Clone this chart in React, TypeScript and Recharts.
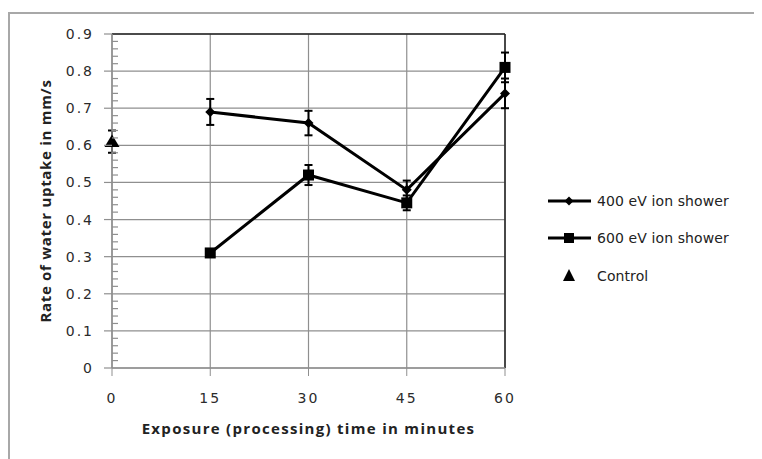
import {
  CartesianGrid,
  ComposedChart,
  ErrorBar,
  Label,
  Legend,
  Line,
  ReferenceLine,
  XAxis,
  YAxis,
} from "recharts";

const minutes = [0, 15, 30, 45, 60];
const shower400 = [null, 0.69, 0.66, 0.48, 0.74];
const shower400Err = [null, 0.035, 0.033, 0.025, 0.04];
const shower600 = [null, 0.31, 0.52, 0.445, 0.81];
const shower600Err = [null, 0.01, 0.027, 0.02, 0.04];
const control = [0.61, null, null, null, null];
const controlErr = [0.03, null, null, null, null];

const seriesNames = ["400 eV ion shower", "600 eV ion shower", "Control"];
const xTicks = [0, 15, 30, 45, 60];
const yTicks = [0, 0.1, 0.2, 0.3, 0.4, 0.5, 0.6, 0.7, 0.8, 0.9];
// every 0.02 along the value axis; the multiples of 0.1 get a label
const yAllTicks = Array.from({ length: 46 }, (_, i) => (i * 2) / 100);

const rows = minutes.map((m, i) => ({
  minutes: m,
  s400: shower400[i],
  e400: shower400Err[i],
  s600: shower600[i],
  e600: shower600Err[i],
  ctrl: control[i],
  eCtrl: controlErr[i],
}));

const GRID = "#8f8f8f";
const INK = "#000";
const TICK_FONT = { fontFamily: "DejaVu Sans", fontSize: 14, fill: "#2b2b2b", letterSpacing: 2 };
const TITLE_STYLE = {
  fontFamily: "Open Sans",
  fontSize: 15,
  fontWeight: 700,
  fill: "#222",
  letterSpacing: 1.3,
};
const Y_TICK_SIZE = 8;
const Y_TICK_MARGIN = 10;

const ok = (v: any) => typeof v === "number" && !isNaN(v);

// major ticks point outwards with a label, minor ones point into the plot
function YTick(props: any) {
  const { x, y, payload } = props;
  const v = payload.value;
  const axisX = x + Y_TICK_SIZE + Y_TICK_MARGIN;
  const major = yTicks.some((t) => Math.abs(t - v) < 1e-6);
  if (!major) {
    return <line x1={axisX} y1={y} x2={axisX + 6} y2={y} stroke={GRID} strokeWidth={1.2} />;
  }
  return (
    <g>
      <line x1={axisX - Y_TICK_SIZE} y1={y} x2={axisX} y2={y} stroke={GRID} strokeWidth={1.2} />
      <text x={x} y={y} dy="0.355em" textAnchor="end" style={TICK_FONT}>
        {String(Math.round(v * 10) / 10)}
      </text>
    </g>
  );
}

function Diamond(props: any) {
  const { cx, cy } = props;
  if (!ok(cx) || !ok(cy)) return null;
  const r = 5;
  return <path d={`M${cx},${cy - r}L${cx + r},${cy}L${cx},${cy + r}L${cx - r},${cy}Z`} fill={INK} />;
}

function Square(props: any) {
  const { cx, cy } = props;
  if (!ok(cx) || !ok(cy)) return null;
  const h = 5.5;
  return <rect x={cx - h} y={cy - h} width={h * 2} height={h * 2} fill={INK} />;
}

function Triangle(props: any) {
  const { cx, cy } = props;
  if (!ok(cx) || !ok(cy)) return null;
  return <path d={`M${cx},${cy - 7}L${cx + 7.5},${cy + 5.5}L${cx - 7.5},${cy + 5.5}Z`} fill={INK} />;
}

function LegendIcon({ kind }: { kind: number }) {
  return (
    <svg width={46} height={16} style={{ display: "block" }}>
      {kind < 2 && <line x1={1} y1={8} x2={44} y2={8} stroke={INK} strokeWidth={3} />}
      {kind === 0 && <path d="M22,3.5L26.5,8L22,12.5L17.5,8Z" fill={INK} />}
      {kind === 1 && <rect x={17} y={3} width={10} height={10} fill={INK} />}
      {kind === 2 && <path d="M22,1L28,13L16,13Z" fill={INK} />}
    </svg>
  );
}

function LegendBox() {
  return (
    <div style={{ fontFamily: "DejaVu Sans", fontSize: 14, color: "#222", letterSpacing: 0.1 }}>
      {seriesNames.map((name, i) => (
        <div key={name} style={{ display: "flex", alignItems: "center", height: 37.5 }}>
          <LegendIcon kind={i} />
          <span style={{ marginLeft: 4 }}>{name}</span>
        </div>
      ))}
    </div>
  );
}

export default function App() {
  return (
    <div
      style={{
        marginTop: 4,
        width: 752,
        height: 445,
        borderTop: "2px solid #a8a8a8",
        borderLeft: "2px solid #a8a8a8",
        background: "#fff",
      }}
    >
      <ComposedChart
        width={752}
        height={445}
        data={rows}
        margin={{ top: 20, right: 257, bottom: 21, left: 42 }}
      >
        <CartesianGrid stroke={GRID} strokeWidth={1.2} horizontalValues={yTicks} verticalValues={xTicks} />
        <XAxis
          dataKey="minutes"
          type="number"
          domain={[0, 60]}
          ticks={xTicks}
          height={70}
          tickSize={8}
          tickMargin={17}
          tick={TICK_FONT}
          stroke={GRID}
          tickLine={{ stroke: GRID }}
          axisLine={{ stroke: GRID, strokeWidth: 1.5 }}
        >
          <Label
            value="Exposure (processing) time in minutes"
            position="insideBottom"
            offset={4}
            style={TITLE_STYLE}
          />
        </XAxis>
        <YAxis
          type="number"
          domain={[0, 0.9]}
          ticks={yAllTicks}
          interval={0}
          width={60}
          tickSize={Y_TICK_SIZE}
          tickMargin={Y_TICK_MARGIN}
          tick={<YTick />}
          tickLine={false}
          axisLine={{ stroke: GRID, strokeWidth: 1.5 }}
        >
          <Label
            value="Rate of water uptake in mm/s"
            position="center"
            angle={-90}
            dx={-36}
            style={{ ...TITLE_STYLE, letterSpacing: 0.7 }}
          />
        </YAxis>
        <ReferenceLine y={0.9} stroke="#222" strokeWidth={1.5} />
        <ReferenceLine x={60} stroke="#222" strokeWidth={1.5} />
        <Line
          dataKey="s400"
          name={seriesNames[0]}
          stroke={INK}
          strokeWidth={3}
          dot={<Diamond />}
          activeDot={false}
          isAnimationActive={false}
        >
          <ErrorBar dataKey="e400" direction="y" width={4} strokeWidth={2} stroke={INK} />
        </Line>
        <Line
          dataKey="s600"
          name={seriesNames[1]}
          stroke={INK}
          strokeWidth={3}
          dot={<Square />}
          activeDot={false}
          isAnimationActive={false}
        >
          <ErrorBar dataKey="e600" direction="y" width={4} strokeWidth={2} stroke={INK} />
        </Line>
        <Line
          dataKey="ctrl"
          name={seriesNames[2]}
          stroke="none"
          dot={<Triangle />}
          activeDot={false}
          isAnimationActive={false}
        >
          <ErrorBar dataKey="eCtrl" direction="y" width={4} strokeWidth={2} stroke={INK} />
        </Line>
        <Legend
          layout="horizontal"
          verticalAlign="middle"
          align="center"
          content={<LegendBox />}
          wrapperStyle={{ left: 537, top: 168, width: 215 }}
        />
      </ComposedChart>
    </div>
  );
}
